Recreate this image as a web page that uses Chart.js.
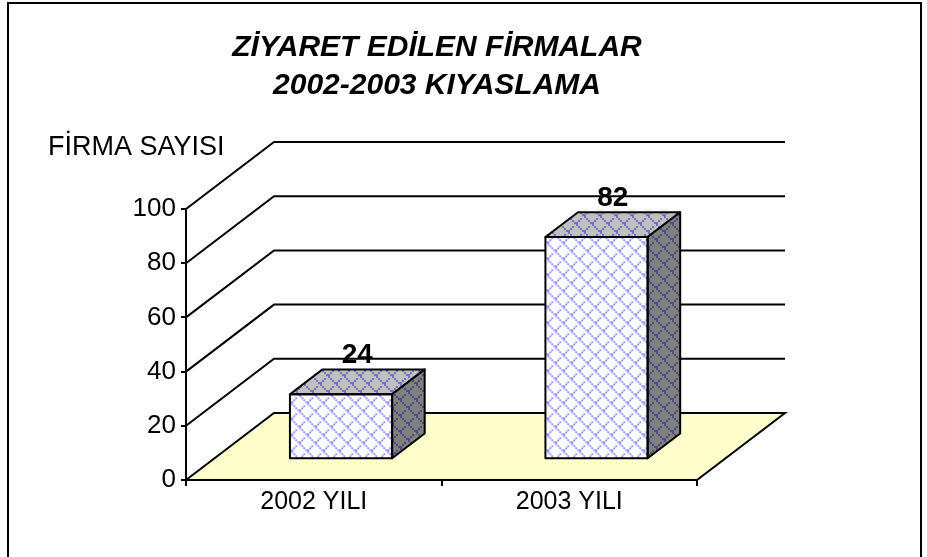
<!DOCTYPE html>
<html lang="tr">
<head>
<meta charset="utf-8">
<title>Ziyaret Edilen Firmalar</title>
<script src="https://cdn.jsdelivr.net/npm/chart.js@4.4.0/dist/chart.umd.min.js"></script>
<style>
  html, body { margin: 0; padding: 0; background: #fff; }
  #wrap { width: 927px; height: 557px; }
</style>
</head>
<body>
<div id="wrap"><canvas id="grafik" width="927" height="557"></canvas></div>
<script>
// --- DADOS ---
const kategoriler = ['2002 YILI', '2003 YILI'];
const firmaSayilari = [24, 82];
const eksenDegerleri = [0, 20, 40, 60, 80, 100];
const baslikSatirlari = ['ZİYARET EDİLEN FİRMALAR', '2002-2003 KIYASLAMA'];
const eksenBasligi = 'FİRMA SAYISI';

// --- 3D görünüm ---
const DX = 88, DY = -67;      // derinlik vektörü (ön eksen -> arka duvar)
const F1 = 0.31, F2 = 0.68;   // çubukların ön / arka yüz derinliği
const FONT = '"Liberation Sans", Arial, sans-serif';

// desen: zemin üzerinde mavi çapraz kafes
function desen(zemin, renk) {
  const c = document.createElement('canvas');
  c.width = 16; c.height = 16;
  const g = c.getContext('2d');
  g.fillStyle = zemin;
  g.fillRect(0, 0, 16, 16);
  g.fillStyle = renk;
  for (let i = 0; i < 8; i++) {
    g.fillRect(2 * i, 2 * i, 2, 2);
    if (i % 4 !== 3) g.fillRect(2 * i, 14 - 2 * i, 2, 2);
  }
  return g.createPattern(c, 'repeat');
}
const onDesen = desen('#ffffff', '#9999ff');
const ustDesen = desen('#c0c0c0', '#7373bf');
const yanDesen = desen('#808080', '#4d4d80');

const plugin3d = {
  id: 'plugin3d',
  beforeDraw(chart) {
    const { ctx, chartArea: a, scales } = chart;
    ctx.save();
    ctx.fillStyle = '#fff';
    ctx.fillRect(0, 0, chart.width, chart.height);

    // çerçeve
    ctx.strokeStyle = '#000';
    ctx.lineWidth = 2;
    ctx.strokeRect(8, 3, 913, 600);

    // başlık
    ctx.fillStyle = '#000';
    ctx.textAlign = 'center';
    ctx.textBaseline = 'middle';
    ctx.font = 'italic bold 30px ' + FONT;
    baslikSatirlari.forEach((s, i) => ctx.fillText(s, 437, 48 + i * 38));

    ctx.textAlign = 'left';
    ctx.font = '27px ' + FONT;
    ctx.fillText(eksenBasligi, 48, 148);

    // zemin
    const y0 = scales.y.getPixelForValue(0);
    ctx.beginPath();
    ctx.moveTo(a.left, y0);
    ctx.lineTo(a.left + DX, y0 + DY);
    ctx.lineTo(a.right + DX, y0 + DY);
    ctx.lineTo(a.right, y0);
    ctx.closePath();
    ctx.fillStyle = '#ffffcc';
    ctx.fill();
    ctx.stroke();

    // arka duvar ızgara çizgileri
    eksenDegerleri.forEach(v => {
      if (v === 0) return;
      const y = scales.y.getPixelForValue(v);
      ctx.beginPath();
      ctx.moveTo(a.left, y);
      ctx.lineTo(a.left + DX, y + DY);
      ctx.lineTo(a.right + DX, y + DY);
      ctx.stroke();
    });
    ctx.restore();
  },
  beforeDatasetsDraw(chart) {
    chart.ctx.save();
    chart.ctx.translate(F1 * DX, F1 * DY);
  },
  afterDatasetsDraw(chart) {
    const ctx = chart.ctx;
    ctx.restore();
    const bx = (F2 - F1) * DX, by = (F2 - F1) * DY;
    const meta = chart.getDatasetMeta(0);
    ctx.save();
    ctx.strokeStyle = '#000';
    ctx.lineWidth = 2;
    ctx.lineJoin = 'round';
    meta.data.forEach((bar, i) => {
      const p = bar.getProps(['x', 'y', 'base', 'width'], true);
      const L = p.x - p.width / 2 + F1 * DX, R = p.x + p.width / 2 + F1 * DX;
      const T = p.y + F1 * DY, B = p.base + F1 * DY;

      // üst yüz
      ctx.beginPath();
      ctx.moveTo(L, T);
      ctx.lineTo(L + bx, T + by);
      ctx.lineTo(R + bx, T + by);
      ctx.lineTo(R, T);
      ctx.closePath();
      ctx.fillStyle = ustDesen;
      ctx.fill();
      ctx.stroke();

      // yan yüz
      ctx.beginPath();
      ctx.moveTo(R, T);
      ctx.lineTo(R + bx, T + by);
      ctx.lineTo(R + bx, B + by);
      ctx.lineTo(R, B);
      ctx.closePath();
      ctx.fillStyle = yanDesen;
      ctx.fill();
      ctx.stroke();

      // ön yüz kenarı
      ctx.strokeRect(L, T, R - L, B - T);

      // değer etiketi
      ctx.fillStyle = '#000';
      ctx.font = 'bold 28px ' + FONT;
      ctx.textAlign = 'center';
      ctx.textBaseline = 'alphabetic';
      ctx.fillText(String(firmaSayilari[i]), (L + R + bx) / 2, T + by - 6);
    });
    ctx.restore();
  }
};

new Chart(document.getElementById('grafik'), {
  type: 'bar',
  data: {
    labels: kategoriler,
    datasets: [{
      data: firmaSayilari,
      backgroundColor: onDesen,
      borderWidth: 0,
      categoryPercentage: 1,
      barPercentage: 0.4
    }]
  },
  options: {
    responsive: false,
    animation: false,
    devicePixelRatio: 1,
    layout: { padding: { top: 209, right: 230, bottom: 0, left: 0 } },
    plugins: { legend: { display: false }, tooltip: { enabled: false }, title: { display: false } },
    scales: {
      x: {
        grid: { display: true, offset: true, drawOnChartArea: false, tickLength: 6, color: '#000', lineWidth: 2 },
        border: { display: true, color: '#000', width: 2 },
        ticks: { color: '#000', font: { family: FONT, size: 25 }, padding: 1, maxRotation: 0, autoSkip: false },
        afterFit(s) { s.height = 77; }
      },
      y: {
        min: 0, max: 100,
        afterBuildTicks(s) { s.ticks = eksenDegerleri.map(v => ({ value: v })); },
        grid: { display: true, drawOnChartArea: false, tickLength: 5, color: '#000', lineWidth: 2 },
        border: { display: true, color: '#000', width: 2 },
        ticks: { color: '#000', font: { family: FONT, size: 26 }, padding: 5 },
        afterFit(s) { s.width = 186; }
      }
    }
  },
  plugins: [plugin3d]
});
</script>
</body>
</html>
